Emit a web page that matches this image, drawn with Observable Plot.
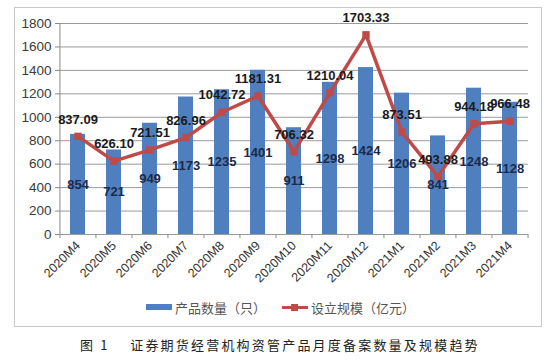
<!DOCTYPE html>
<html>
<head>
<meta charset="utf-8">
<script src="https://cdn.jsdelivr.net/npm/d3@7"></script>
<script src="https://cdn.jsdelivr.net/npm/@observablehq/plot@0.6"></script>
<style>
  html, body { margin: 0; padding: 0; background: #fff; width: 554px; height: 363px; overflow: hidden; }
  #frame { position: absolute; left: 14px; top: 7px; width: 526px; height: 318px; border: 1px solid #c8c8c8; }
  #chart { position: absolute; left: 0; top: 0; }
  #legend { position: absolute; top: 299px; left: 0; width: 554px; height: 16px; font-family: "Noto Sans CJK SC", sans-serif; font-size: 13px; color: #555; }
  .lg { position: absolute; top: 0; display: flex; align-items: center; height: 16px; }
  #caption { position: absolute; top: 335px; left: 80px; white-space: nowrap; font-family: "Noto Sans CJK SC", sans-serif; font-size: 13px; letter-spacing: 2.2px; color: #222; }
</style>
</head>
<body>
<div id="frame"></div>
<div id="chart"></div>
<div id="legend">
  <div class="lg" style="left:146px"><span style="display:inline-block;width:26px;height:6px;background:#4f7fbf;margin-right:3px"></span><span>产品数量（只）</span></div>
  <div class="lg" style="left:282px"><span style="position:relative;display:inline-block;width:26px;height:3px;background:#be4b48;margin-right:3px"><span style="position:absolute;left:9px;top:-2px;width:7px;height:7px;background:#be4b48"></span></span><span>设立规模（亿元）</span></div>
</div>
<div id="caption">图&nbsp;1&nbsp;&nbsp;&nbsp;&nbsp;证券期货经营机构资管产品月度备案数量及规模趋势</div>
<script>
const months = ["2020M4","2020M5","2020M6","2020M7","2020M8","2020M9","2020M10","2020M11","2020M12","2021M1","2021M2","2021M3","2021M4"];
const counts = [854, 721, 949, 1173, 1235, 1401, 911, 1298, 1424, 1206, 841, 1248, 1128];
const scale = [837.09, 626.10, 721.51, 826.96, 1042.72, 1181.31, 706.32, 1210.04, 1703.33, 873.51, 493.88, 944.18, 966.48];
const scaleLabels = ["837.09","626.10","721.51","826.96","1042.72","1181.31","706.32","1210.04","1703.33","873.51","493.88","944.18","966.48"];
const yTicks = [0, 200, 400, 600, 800, 1000, 1200, 1400, 1600, 1800];

const data = months.map((m, i) => ({month: m, count: counts[i], scale: scale[i], label: scaleLabels[i]}));
const tickLen = 34; // length of category boundary ticks in y units (~4px)

const plot = Plot.plot({
  width: 554,
  height: 300,
  marginLeft: 59,
  marginRight: 26,
  marginTop: 23,
  marginBottom: 66,
  style: {fontFamily: "'Liberation Sans', Arial, sans-serif", background: "transparent"},
  x: {domain: months, paddingInner: 0.58, paddingOuter: 0.29, label: null},
  y: {domain: [0, 1800], label: null},
  marks: [
    Plot.ruleY(yTicks, {stroke: "#9a9a9a", strokeWidth: 1}),
    Plot.axisY({ticks: yTicks, tickFormat: d => String(d), tickSize: 4, tickPadding: 4, fontSize: 13.5, stroke: "#888", fill: "#3a3a3a", label: null}),
    Plot.ruleX(data.slice(0, 1), {x: "month", y1: 0, y2: 1800, dx: -18.05, stroke: "#888"}),
    Plot.barY(data, {x: "month", y: "count", fill: "#4f7fbf"}),
    Plot.ruleX(data, {x: "month", y1: 0, y2: -tickLen, dx: -18.05, stroke: "#888", clip: false}),
    Plot.ruleX(data.slice(-1), {x: "month", y1: 0, y2: -tickLen, dx: 18.05, stroke: "#888", clip: false}),
    Plot.axisX({tickSize: 0, tickRotate: -45, tickPadding: 9, fontSize: 12.5, fill: "#333", label: null, textAnchor: "end"}),
    Plot.line(data, {x: "month", y: "scale", stroke: "#be4b48", strokeWidth: 3.5}),
    Plot.dot(data, {x: "month", y: "scale", symbol: "square", r: 4.2, fill: "#be4b48"}),
    Plot.text(data, {x: "month", y: d => d.count / 2, text: d => String(d.count), fill: "#1c2a4a", fontWeight: "bold", fontSize: 13}),
    Plot.text(data, {x: "month", y: "scale", text: "label", dy: -17, fill: "#1a1a1a", fontWeight: "bold", fontSize: 13})
  ]
});
document.getElementById("chart").appendChild(plot);
</script>
</body>
</html>
